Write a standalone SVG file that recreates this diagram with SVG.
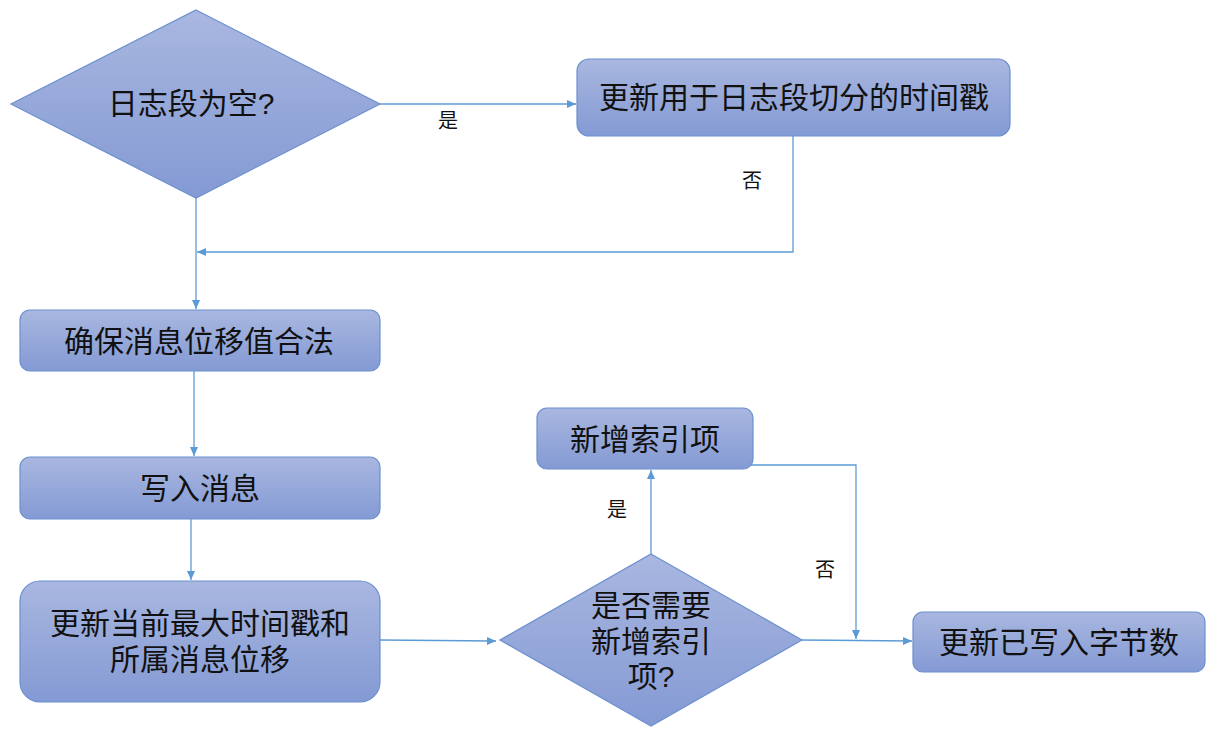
<svg xmlns="http://www.w3.org/2000/svg" width="1220" height="733" viewBox="0 0 1220 733">
<defs>
<linearGradient id="g" x1="0" y1="0" x2="0" y2="1">
<stop offset="0" stop-color="#a9b7e0"/>
<stop offset="1" stop-color="#849ad4"/>
</linearGradient>
<marker id="arr" markerWidth="10" markerHeight="10" refX="9" refY="5" orient="auto" markerUnits="userSpaceOnUse">
<path d="M0,1 L9,5 L0,9 Z" fill="#5b9bd5"/>
</marker>
</defs>
<style>
.shape{fill:url(#g);stroke:#6c8fd0;stroke-width:1.2}
.t{font-family:"Liberation Sans","Noto Sans CJK SC",sans-serif;font-size:30px;fill:#111;text-anchor:middle;dominant-baseline:central}
.l{font-family:"Liberation Sans","Noto Sans CJK SC",sans-serif;font-size:20px;fill:#111;text-anchor:middle;dominant-baseline:central}
.c{fill:none;stroke:#5b9bd5;stroke-width:1.3}
</style>
<g id="connectors">
<path class="c" d="M380,104 L576,104" marker-end="url(#arr)"/>
<path class="c" d="M793,136 L793,252 L197,252" marker-end="url(#arr)"/>
<path class="c" d="M196,198 L196,309" marker-end="url(#arr)"/>
<path class="c" d="M194,371 L194,456" marker-end="url(#arr)"/>
<path class="c" d="M191,519 L191,580" marker-end="url(#arr)"/>
<path class="c" d="M380,640 L496,641" marker-end="url(#arr)"/>
<path class="c" d="M651,554 L651,470" marker-end="url(#arr)"/>
<path class="c" d="M731,442 L731,465 L856,465 L856,639" marker-end="url(#arr)"/>
<path class="c" d="M802,640 L912,641" marker-end="url(#arr)"/>
<text class="l" x="448" y="121">是</text>
<text class="l" x="752" y="181">否</text>
<text class="l" x="617" y="510">是</text>
<text class="l" x="825" y="570">否</text>
</g>
<g id="n1">
<polygon class="shape" points="196,10 380,104 196,198 11,104"/>
<text class="t" x="191" y="103">日志段为空?</text>
</g>
<g id="n2">
<rect class="shape" x="577" y="59" width="433" height="77" rx="12"/>
<text class="t" x="794" y="97">更新用于日志段切分的时间戳</text>
</g>
<g id="n3">
<rect class="shape" x="20" y="310" width="360" height="61" rx="10"/>
<text class="t" x="199" y="341">确保消息位移值合法</text>
</g>
<g id="n4">
<rect class="shape" x="20" y="457" width="360" height="62" rx="10"/>
<text class="t" x="200" y="488">写入消息</text>
</g>
<g id="n5">
<rect class="shape" x="20" y="581" width="360" height="121" rx="20"/>
<text class="t" x="200" y="623">更新当前最大时间戳和<tspan x="200" dy="36">所属消息位移</tspan></text>
</g>
<g id="n6">
<polygon class="shape" points="651,554 802,640 651,726 500,640"/>
<text class="t" x="651" y="605">是否需要<tspan x="651" dy="36">新增索引</tspan><tspan x="651" dy="35">项?</tspan></text>
</g>
<g id="n7">
<rect class="shape" x="537" y="408" width="216" height="61" rx="10"/>
<text class="t" x="645" y="439">新增索引项</text>
</g>
<g id="n8">
<rect class="shape" x="913" y="612" width="292" height="60" rx="10"/>
<text class="t" x="1059" y="642">更新已写入字节数</text>
</g>
</svg>
